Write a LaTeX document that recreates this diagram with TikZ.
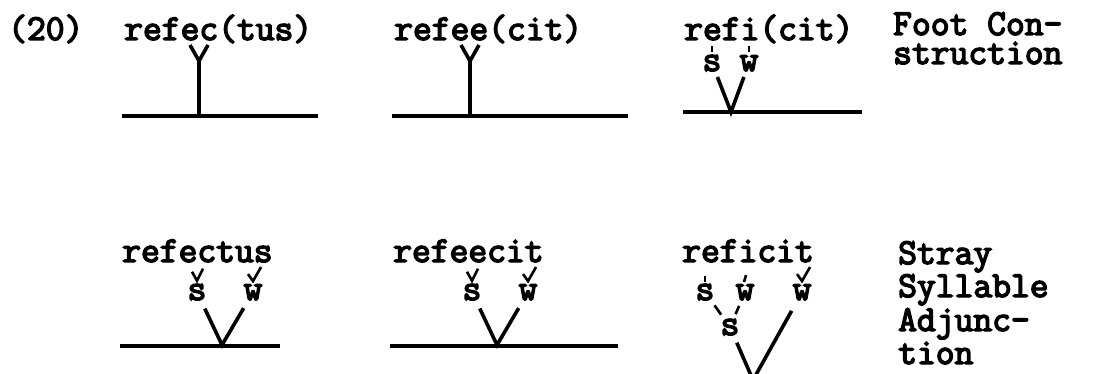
\documentclass[tikz,border=0pt]{standalone}
\usepackage{fontspec}
\newfontfamily\typewriter{Latin Modern Mono}[FakeBold=4]
\usetikzlibrary{positioning}

\begin{document}
\begin{tikzpicture}[
		x=1pt, y=-1pt,
		% typed words and labels
		word/.style={
			font=\typewriter\bfseries\fontsize{36.5}{40}\selectfont,
			anchor=base west,
			inner sep=0pt
		},
		syll/.style={
			font=\typewriter\bfseries\fontsize{36.5}{40}\selectfont,
			anchor=base,
			inner sep=0pt
		},
		% lines of the trees
		branch/.style={line width=3.6pt},
		bar/.style={line width=4.6pt},
		tick/.style={line width=2.6pt}
		]
		
		\useasboundingbox (0,0) rectangle (1113,374);
		
		% Number of the example
		\node (num) [word] at (8,40) {(20)};
		
		% First row: Foot Construction
		\node (wA) [word] at (124,40) {refec(tus)};
		\node (wB) [word] at (394,40) {refee(cit)};
		\node (wC) [word] at (684,40) {refi(cit)};
		\node (fc1) [word] at (893,35) {Foot Con-};
		\node (fc2) [word] at (893,64) {struction};
		
		\node (sC) [syll] at (712,71) {s};
		\node (wwC) [syll] at (749,71) {w};
		
		\coordinate (jA) at (199,61);
		\coordinate (aAl) at (190,45);
		\coordinate (aAr) at (208,45);
		\coordinate (bA) at (199,116);
		\coordinate (bAl) at (122,116);
		\coordinate (bAr) at (318,116);
		
		\coordinate (jB) at (470,61);
		\coordinate (aBl) at (461,45);
		\coordinate (aBr) at (479,45);
		\coordinate (bB) at (470,116);
		\coordinate (bBl) at (392,116);
		\coordinate (bBr) at (628,116);
		
		\coordinate (vC) at (731,112);
		\coordinate (bCl) at (683,112);
		\coordinate (bCr) at (862,112);
		
		\draw [bar] (bAl) -- (bAr);
		\draw [bar] (bBl) -- (bBr);
		\draw [bar] (bCl) -- (bCr);
		
		\draw [branch] (aAl) -- (jA) -- (aAr);
		\draw [branch] (jA) -- (bA);
		\draw [branch] (aBl) -- (jB) -- (aBr);
		\draw [branch] (jB) -- (bB);
		
		\draw [tick] (sC.north) ++(0,-3) -- ++(0,-6);
		\draw [tick] (wwC.north) ++(0,-3) -- ++(0,-6);
		\draw [branch, shorten <=6pt, shorten >=6pt] (sC) -- (vC) -- (wwC);
		
		% Second row: Stray Syllable Adjunction
		\node (wD) [word] at (122,262) {refectus};
		\node (wF) [word] at (393,262) {refeecit};
		\node (wE) [word] at (682,262) {reficit};
		\node (sa1) [word] at (898,264) {Stray};
		\node (sa2) [word] at (898,297) {Syllable};
		\node (sa3) [word] at (898,331) {Adjunc-};
		\node (sa4) [word] at (898,364) {tion};
		
		\node (sD) [syll] at (197,300) {s};
		\node (wwD) [syll] at (253,300) {w};
		\node (sF) [syll] at (472,300) {s};
		\node (wwF) [syll] at (528,300) {w};
		\node (sE) [syll] at (705,300) {s};
		\node (wwE) [syll] at (745,300) {w};
		\node (wE) [syll] at (802,300) {w};
		\node (sE2) [syll] at (730,335) {s};
		
		\coordinate (vD) at (222,345);
		\coordinate (bDl) at (120,346);
		\coordinate (bDr) at (280,346);
		\coordinate (vF) at (497,345);
		\coordinate (bFl) at (390,346);
		\coordinate (bFr) at (618,346);
		\coordinate (vE) at (753,380);
		\coordinate (bEl) at (680,376);
		\coordinate (bEr) at (830,376);
		
		\draw [bar] (bDl) -- (bDr);
		\draw [bar] (bFl) -- (bFr);
		\draw [bar] (bEl) -- (bEr);
		
		% Marks under the letters
		\draw [tick] ([shift={(-5,-12)}]sD.north) -- ([shift={(0,-3)}]sD.north) -- ([shift={(6,-15)}]sD.north);
		\draw [tick] ([shift={(-5,-10)}]wwD.north) -- ([shift={(0,-3)}]wwD.north) -- ([shift={(8,-17)}]wwD.north);
		\draw [tick] ([shift={(-5,-12)}]sF.north) -- ([shift={(0,-3)}]sF.north) -- ([shift={(6,-15)}]sF.north);
		\draw [tick] ([shift={(-5,-10)}]wwF.north) -- ([shift={(0,-3)}]wwF.north) -- ([shift={(8,-17)}]wwF.north);
		\draw [tick] (sE.north) ++(0,-2) -- ++(0,-6);
		\draw [tick] (wwE.north) ++(-1,-2) -- ++(2,-7);
		\draw [tick] ([shift={(-5,-10)}]wE.north) -- ([shift={(0,-3)}]wE.north) -- ([shift={(8,-17)}]wE.north);
		
		\draw [tick, shorten <=6pt, shorten >=5pt] (sE) -- (sE2);
		\draw [tick, shorten <=6pt, shorten >=5pt] (wwE) -- (sE2);
		
		\draw [branch, shorten <=9pt, shorten >=9pt] (sD) -- (vD) -- (wwD);
		\draw [branch, shorten <=9pt, shorten >=9pt] (sF) -- (vF) -- (wwF);
		\draw [branch, shorten <=8pt] (sE2) -- (vE);
		\draw [branch, shorten <=12pt] (wE) -- (vE);
		
	\end{tikzpicture}
\end{document}
